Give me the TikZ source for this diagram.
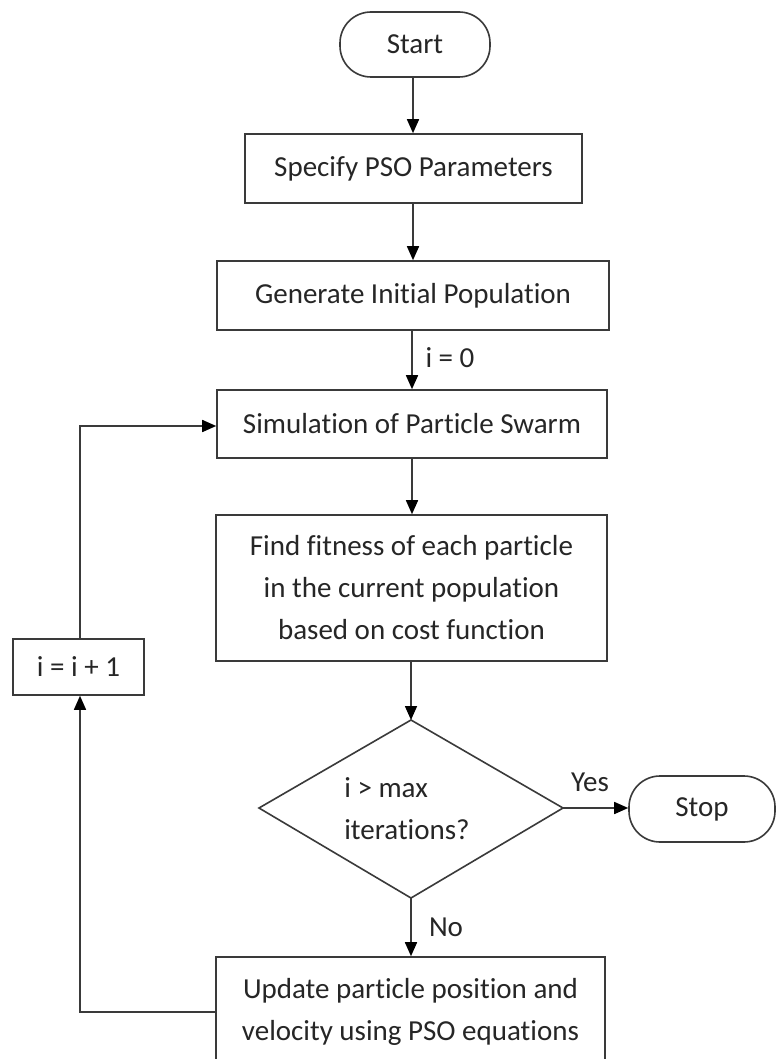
\documentclass[tikz,border=0pt]{standalone}
\usepackage{fontspec}
\setmainfont{Carlito}[RawFeature=-liga]
\usetikzlibrary{shapes.geometric,arrows.meta}
\definecolor{lc}{HTML}{3A3A3A}
\definecolor{tc}{HTML}{262626}
\tikzset{
  base/.style={draw=lc, line width=1.6pt, text=tc, inner sep=0pt, align=center,
    font=\fontsize{29}{42}\selectfont},
  procbox/.style={base, rectangle},
  termbox/.style={base, rectangle, rounded corners=31pt},
  conn/.style={draw=lc, line width=1.6pt, -{Triangle[length=14pt,width=12pt,color=black]}},
  lbl/.style={text=tc, font=\fontsize{29}{34}\selectfont, inner sep=0pt}
}
\begin{document}
\begin{tikzpicture}[x=1pt,y=-1pt]
\clip (0,0) rectangle (776,1059);
\fill[white] (0,0) rectangle (776,1059);
\node[termbox, minimum width=150pt, minimum height=65pt] (start) at (415,44.5) {Start};
\node[procbox, minimum width=337pt, minimum height=69pt] (spec) at (413.5,168.5) {Specify PSO Parameters};
\node[procbox, minimum width=392pt, minimum height=69pt] (gen) at (413,295.5) {Generate Initial Population};
\node[procbox, minimum width=390pt, minimum height=68pt] (sim) at (412,424) {Simulation of Particle Swarm};
\node[procbox, minimum width=391pt, minimum height=146pt] (fit) at (411.5,588) {Find fitness of each particle\\in the current population\\based on cost function};
\node[base, draw=none, fill=none, align=left] (dtxt) at (407,809) {i > max\\iterations?};
\path[draw=lc, line width=1.6pt] (259,808) coordinate (dl) -- (411,720) coordinate (dt) -- (563,808) coordinate (dr) -- (411,898) coordinate (db) -- cycle;
\node[termbox, minimum width=146pt, minimum height=66pt] (stop) at (702,809) {Stop};
\node[procbox, minimum width=389pt, minimum height=110pt] (upd) at (410.5,1012) {Update particle position and\\velocity using PSO equations};
\node[procbox, minimum width=131pt, minimum height=56pt] (inc) at (78.5,667) {i = i + 1};
\coordinate (c1) at (80,1012);
\coordinate (c2) at (80,426);
\draw[conn] (start.south -| 413,0) -- (spec.north -| 413,0);
\draw[conn] (spec.south -| 413,0) -- (gen.north -| 413,0);
\draw[conn] (gen.south -| 412,0) -- (sim.north -| 412,0);
\draw[conn] (sim.south -| 412,0) -- (fit.north -| 412,0);
\draw[conn] (fit.south -| 411,0) -- (dt);
\draw[conn] (dr) -- (stop.west |- dr);
\draw[conn] (db) -- (upd.north -| db);
\draw[conn] (upd.west |- c1) -- (c1) -- (inc.south -| c1);
\draw[conn] (inc.north -| c2) -- (c2) -- (sim.west |- c2);
\node[lbl] (l0) at (450,358) {i = 0};
\node[lbl] (lyes) at (590,782) {Yes};
\node[lbl] (lno) at (446,927) {No};
\end{tikzpicture}
\end{document}
